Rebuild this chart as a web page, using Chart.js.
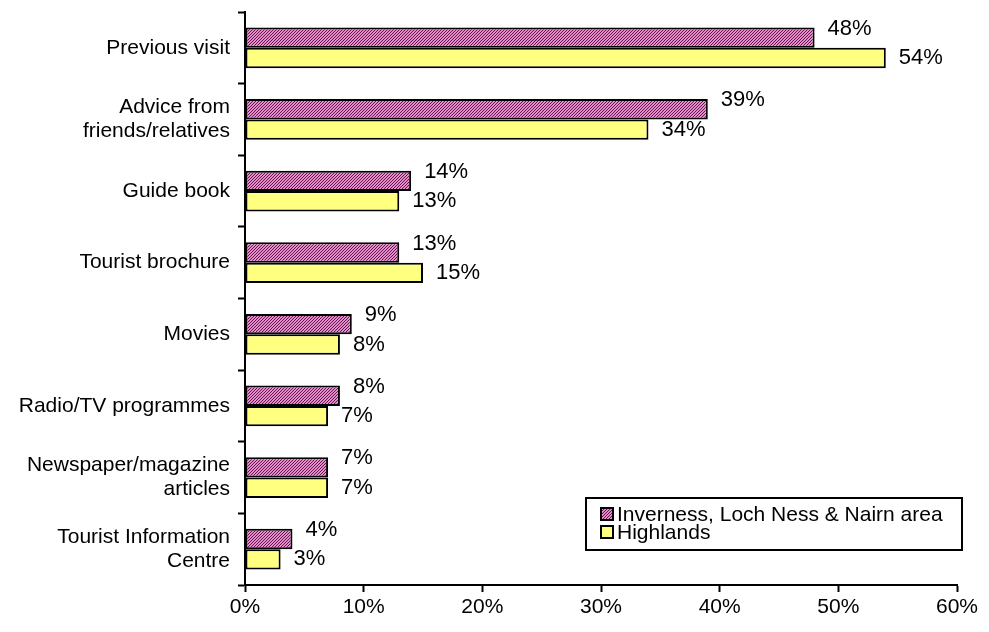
<!DOCTYPE html>
<html>
<head>
<meta charset="utf-8">
<script src="https://cdn.jsdelivr.net/npm/chart.js@4.4.1/dist/chart.umd.min.js"></script>
<style>
  html, body { margin: 0; padding: 0; background: #ffffff; }
  #wrap { width: 989px; height: 632px; position: relative; }
</style>
</head>
<body>
<div id="wrap"><canvas id="chart" width="989" height="632"></canvas></div>
<script>
// Sources of information about the area, share of visitors
const categories = [
  'Previous visit',
  ['Advice from', 'friends/relatives'],
  'Guide book',
  'Tourist brochure',
  'Movies',
  'Radio/TV programmes',
  ['Newspaper/magazine', 'articles'],
  ['Tourist Information', 'Centre']
];
const invernessValues = [48, 39, 14, 13, 9, 8, 7, 4];
const highlandsValues = [54, 34, 13, 15, 8, 7, 7, 3];
const seriesNames = ['Inverness, Loch Ness & Nairn area', 'Highlands'];
const xTicks = [0, 10, 20, 30, 40, 50, 60];

const FONT = 'Liberation Sans, Arial, sans-serif';

// Diagonal hatch fill for the first series
function makeHatch() {
  const c = document.createElement('canvas');
  c.width = 3; c.height = 3;
  const g = c.getContext('2d');
  g.fillStyle = '#e78bcb';
  g.fillRect(0, 0, 3, 3);
  g.fillStyle = '#5e1a4c';
  for (let x = 0; x < 3; x++) {
    const y = (3 - 1 - x) % 3;
    g.fillRect(x, y, 1, 1);
  }
  return g.createPattern(c, 'repeat');
}
const hatch = makeHatch();

// Value labels at the end of each bar
const valueLabels = {
  id: 'valueLabels',
  afterDatasetsDraw(chart) {
    const ctx = chart.ctx;
    ctx.save();
    ctx.font = '22px ' + FONT;
    ctx.fillStyle = '#000';
    ctx.textAlign = 'left';
    ctx.textBaseline = 'middle';
    chart.data.datasets.forEach((ds, di) => {
      const meta = chart.getDatasetMeta(di);
      meta.data.forEach((bar, i) => {
        const dy = di === 0 ? -9 : 0;
        ctx.fillText(ds.data[i] + '%', bar.x + 13, bar.y + dy);
      });
    });
    ctx.restore();
  }
};

// Boxed legend inside the plot, lower right
const boxLegend = {
  id: 'boxLegend',
  afterDraw(chart) {
    const ctx = chart.ctx;
    const area = chart.chartArea;
    const x0 = area.right - 371, y0 = area.bottom - 87;
    const w = 376, h = 52;
    ctx.save();
    ctx.fillStyle = '#fff';
    ctx.fillRect(x0, y0, w, h);
    ctx.lineWidth = 2;
    ctx.strokeStyle = '#000';
    ctx.strokeRect(x0, y0, w, h);
    ctx.font = '21px ' + FONT;
    ctx.textBaseline = 'middle';
    ctx.textAlign = 'left';
    chart.data.datasets.forEach((ds, i) => {
      const cy = y0 + 16 + i * 18;
      ctx.fillStyle = ds.backgroundColor;
      ctx.fillRect(x0 + 15, cy - 6, 12, 12);
      ctx.lineWidth = 2;
      ctx.strokeRect(x0 + 15, cy - 6, 12, 12);
      ctx.fillStyle = '#000';
      ctx.fillText(ds.label, x0 + 31, cy + 1);
    });
    ctx.restore();
  }
};

new Chart(document.getElementById('chart'), {
  type: 'bar',
  data: {
    labels: categories,
    datasets: [
      {
        label: seriesNames[0],
        data: invernessValues,
        backgroundColor: hatch,
        borderColor: '#000',
        borderWidth: 2,
        borderSkipped: false
      },
      {
        label: seriesNames[1],
        data: highlandsValues,
        backgroundColor: '#ffff80',
        borderColor: '#000',
        borderWidth: 2,
        borderSkipped: false
      }
    ]
  },
  options: {
    indexAxis: 'y',
    responsive: false,
    animation: false,
    devicePixelRatio: 1,
    layout: { padding: { top: 12, right: 32, left: 0, bottom: 0 } },
    categoryPercentage: 0.57,
    barPercentage: 1.0,
    plugins: {
      legend: { display: false },
      tooltip: { enabled: false }
    },
    scales: {
      x: {
        min: 0,
        max: 60,
        afterBuildTicks(scale) {
          scale.ticks = xTicks.map(v => ({ value: v }));
        },
        afterFit(scale) { scale.height = 47; },
        border: { display: true, color: '#000', width: 2 },
        grid: {
          drawOnChartArea: false,
          drawTicks: true,
          tickLength: 7,
          tickWidth: 2,
          tickColor: '#000'
        },
        ticks: {
          color: '#000',
          font: { family: FONT, size: 21 },
          padding: 3,
          maxRotation: 0,
          callback: v => v + '%'
        }
      },
      y: {
        afterFit(scale) {
          scale.width = 245;
          scale.paddingTop = 0;
          scale.paddingBottom = 0;
        },
        border: { display: true, color: '#000', width: 2 },
        grid: {
          offset: true,
          drawOnChartArea: false,
          drawTicks: true,
          tickLength: 7,
          tickWidth: 2,
          tickColor: '#000'
        },
        ticks: {
          color: '#000',
          font: { family: FONT, size: 21, lineHeight: 1.15 },
          padding: 8
        }
      }
    }
  },
  plugins: [valueLabels, boxLegend]
});
</script>
</body>
</html>
